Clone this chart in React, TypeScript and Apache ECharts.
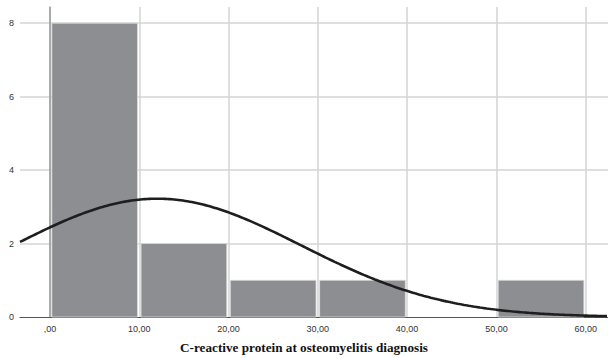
import React, { useEffect, useRef } from "react";
import * as echarts from "echarts";

// Histogram bins: [start, end]
const binStarts = [0, 10, 20, 30, 50];
const binEnds = [10, 20, 30, 40, 60];
const binCounts = [8, 2, 1, 1, 1];

// Fitted normal curve parameters
const curveMean = 12.0;
const curveSd = 16.1;
const sampleN = 13;
const binWidth = 10;

const xMin = -3.36;
const xMax = 62.5;
const yMax = 8.44;

const xTickLabels = [",00", "10,00", "20,00", "30,00", "40,00", "50,00", "60,00"];
const xTickValues = [0, 10, 20, 30, 40, 50, 60];
const yTickValues = [0, 2, 4, 6, 8];

const title = "C-reactive protein at osteomyelitis diagnosis";

function normalCurve(): number[][] {
  const pts: number[][] = [];
  const step = 0.25;
  for (let x = xMin; x <= xMax + 1e-9; x += step) {
    const z = (x - curveMean) / curveSd;
    const y = (sampleN * binWidth) / (curveSd * Math.sqrt(2 * Math.PI)) * Math.exp(-0.5 * z * z);
    pts.push([x, y]);
  }
  return pts;
}

export default function App() {
  const ref = useRef<HTMLDivElement>(null);
  useEffect(() => {
    if (!ref.current) return;
    const chart = echarts.init(ref.current, undefined, { renderer: "svg" });
    const barData = binStarts.map((s, i) => [s, binEnds[i], binCounts[i]]);
    chart.setOption({
      animation: false,
      backgroundColor: "#ffffff",
      grid: { left: 20, right: 0, top: 7, bottom: 41, containLabel: false, outerBoundsMode: "none" },
      xAxis: {
        type: "value",
        min: xMin,
        max: xMax,
        minInterval: 10,
        maxInterval: 10,
        name: title,
        nameLocation: "middle",
        nameGap: 24,
        nameTextStyle: {
          fontFamily: "Liberation Serif",
          fontWeight: "bold",
          fontSize: 13.2,
          color: "#111",
          padding: [0, 20, 0, 0],
        },
        axisLine: { show: true, onZero: false, lineStyle: { color: "#555", width: 1.2 } },
        axisTick: { show: false },
        axisLabel: {
          fontFamily: "Liberation Sans",
          fontSize: 9,
          color: "#333",
          margin: 7,
          formatter: (v: number) => {
            const idx = xTickValues.findIndex((t) => Math.abs(t - v) < 1e-6);
            return idx >= 0 ? xTickLabels[idx] : "";
          },
        },
        splitLine: { show: true, showMinLine: false, showMaxLine: false, lineStyle: { color: "#d4d4d4", width: 1.5 } },
      },
      yAxis: {
        type: "value",
        min: 0,
        max: yMax,
        interval: 2,
        axisLine: { show: true, lineStyle: { color: "#999", width: 1.5 } },
        axisTick: { show: false },
        axisLabel: {
          fontFamily: "Liberation Sans",
          fontSize: 9,
          color: "#333",
          margin: 6,
          formatter: (v: number) => (yTickValues.indexOf(v) >= 0 ? String(v) : ""),
        },
        splitLine: { show: true, showMinLine: false, showMaxLine: false, lineStyle: { color: "#d4d4d4", width: 1.5 } },
      },
      series: [
        {
          type: "custom",
          data: barData,
          encode: { x: [0, 1], y: 2 },
          renderItem: (params: any, api: any) => {
            const p0 = api.coord([api.value(0), api.value(2)]);
            const p1 = api.coord([api.value(1), 0]);
            const inset = 1.8;
            return {
              type: "rect",
              shape: {
                x: p0[0] + inset,
                y: p0[1],
                width: p1[0] - p0[0] - inset * 2,
                height: p1[1] - p0[1],
              },
              style: { fill: "#8d8e92", stroke: "#dcdcdc", lineWidth: 0.8 },
            };
          },
          z: 2,
        },
        {
          type: "line",
          data: normalCurve(),
          showSymbol: false,
          smooth: false,
          lineStyle: { color: "#1e1e1e", width: 2.6 },
          z: 3,
        },
      ],
    });
    return () => chart.dispose();
  }, []);
  return (
    <div
      ref={ref}
      style={{ position: "fixed", left: 0, top: 0, width: 608, height: 358 }}
    />
  );
}
